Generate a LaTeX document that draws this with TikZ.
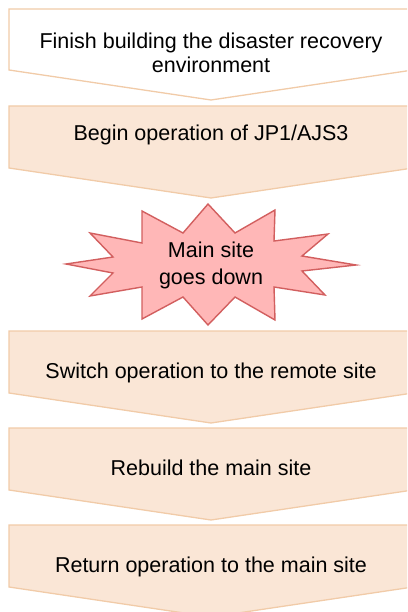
\documentclass[tikz,border=0pt]{standalone}
\usepackage{fontspec}
\setmainfont{Liberation Sans}
\usepackage{tikz}

\definecolor{stepfill}{RGB}{250,230,214}
\definecolor{stepline}{RGB}{241,203,168}
\definecolor{burstfill}{RGB}{255,183,183}
\definecolor{burstline}{RGB}{210,95,95}

\begin{document}
\begin{tikzpicture}[
    x=1pt, y=-1pt,
    every node/.style={inner sep=0pt, align=center, font=\fontsize{21.5}{24}\selectfont},
    stepbox/.style={draw=stepline, fill=stepfill, line width=1.3pt},
    firstbox/.style={stepbox, fill=white},
    burst/.style={draw=burstline, fill=burstfill, line width=1.4pt, line join=miter}
]
\useasboundingbox (0,0) rectangle (407,612);
\clip (0,0) rectangle (407,612);

% --- Chevrons (right side runs off the page)
\draw[firstbox] (9,9) -- ++(404,0) -- ++(0,61) -- ++(-202,30) -- ++(-202,-30) -- cycle;
\foreach \top in {106,331,428,525}
    \draw[stepbox] (9,\top) -- ++(404,0) -- ++(0,62) -- ++(-202,30) -- ++(-202,-30) -- cycle;

% --- Starburst
\draw[burst] (208,204) -- (235,233) -- (275,210) -- (274,241) -- (328,234)
    -- (302,256) -- (356,265) -- (302,271) -- (325,295) -- (274,287)
    -- (275,320) -- (235,297) -- (208,325) -- (183,297) -- (142,319)
    -- (142,287) -- (90,296) -- (113,273) -- (66,264) -- (113,257)
    -- (90,233) -- (142,243) -- (142,211) -- (183,233) -- cycle;

% --- Texts
\node[anchor=north] (finish) at (211,33) {Finish building the disaster recovery\\environment};
\node[anchor=base] (begin) at (211,141) {Begin operation of JP1/AJS3};
\node[anchor=north, font=\fontsize{21.5}{26.5}\selectfont] (down) at (211,242) {Main site\\goes down};
\node[anchor=base] (switch) at (211,378) {Switch operation to the remote site};
\node[anchor=base] (rebuild) at (211,475) {Rebuild the main site};
\node[anchor=base] (return) at (211,572) {Return operation to the main site};
\end{tikzpicture}
\end{document}
